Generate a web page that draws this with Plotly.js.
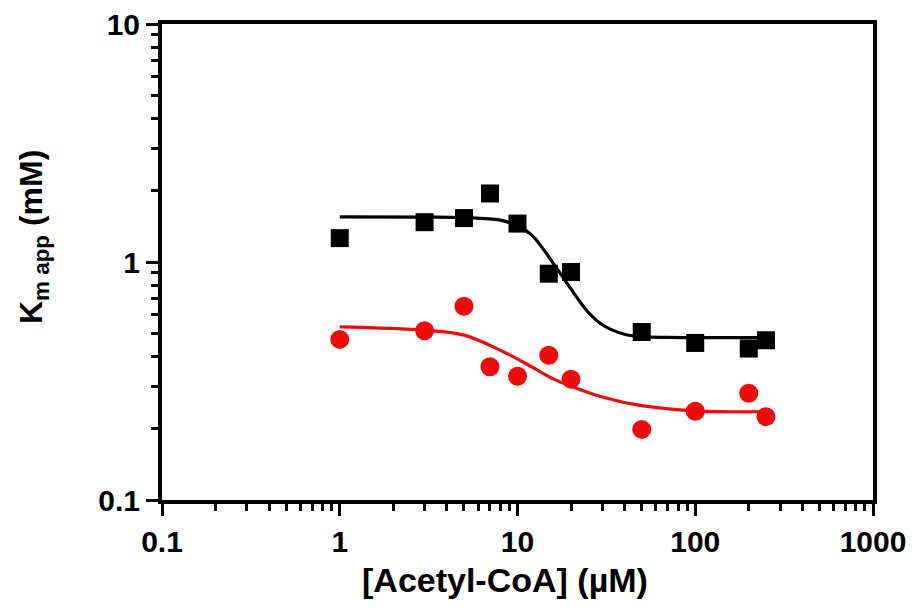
<!DOCTYPE html>
<html>
<head>
<meta charset="utf-8">
<script src="https://cdn.plot.ly/plotly-3.0.1.min.js"></script>
<style>html,body{margin:0;padding:0;background:#fff;}#chart{width:918px;height:611px;}</style>
</head>
<body>
<div id="chart"></div>
<script>
// Measured data: [Acetyl-CoA] (µM) vs Km app (mM)
const blackX = [1, 3, 5, 7, 10, 15, 20, 50, 100, 200, 250];
const blackY = [1.26, 1.47, 1.53, 1.94, 1.45, 0.893, 0.908, 0.508, 0.457, 0.433, 0.469];
const redX = [1, 3, 5, 7, 10, 15, 20, 50, 100, 200, 250];
const redY = [0.473, 0.514, 0.652, 0.363, 0.331, 0.406, 0.322, 0.198, 0.236, 0.281, 0.224];

// Fitted curves
const blackFitX = [1, 3, 5, 8, 10, 12, 14, 16, 18, 20, 25, 30, 40, 50, 70, 100, 250];
const blackFitY = [1.546, 1.545, 1.537, 1.50, 1.42, 1.30, 1.13, 0.98, 0.865, 0.77, 0.615, 0.545, 0.497, 0.486, 0.482, 0.481, 0.481];
const redFitX = [1, 3, 5, 8, 12, 16, 20, 30, 50, 100, 250];
const redFitY = [0.534, 0.517, 0.493, 0.426, 0.363, 0.322, 0.301, 0.271, 0.249, 0.237, 0.235];

const xTickVals = [0.1, 1, 10, 100, 1000];
const xTickText = ['0.1', '1', '10', '100', '1000'];
const yTickVals = [0.1, 1, 10];
const yTickText = ['0.1', '1', '10'];
const xTitle = '[Acetyl-CoA] (µM)';
const yTitle = 'K<sub>m app</sub> (mM)';

const RED = 'rgb(237,12,12)';
const FONT = 'Liberation Sans, Arial, sans-serif';

const traces = [
  {x: blackFitX, y: blackFitY, mode: 'lines', line: {color: '#000', width: 3.2, shape: 'spline', smoothing: 1}, hoverinfo: 'skip'},
  {x: redFitX, y: redFitY, mode: 'lines', line: {color: RED, width: 3.2, shape: 'spline', smoothing: 1}, hoverinfo: 'skip'},
  {x: blackX, y: blackY, mode: 'markers', marker: {symbol: 'square', size: 18, color: '#000'}},
  {x: redX, y: redY, mode: 'markers', marker: {symbol: 'circle', size: 19, color: RED}}
];

const axisCommon = {
  type: 'log',
  showgrid: false,
  zeroline: false,
  showline: true,
  linecolor: '#000',
  linewidth: 4,
  mirror: true,
  ticks: 'outside',
  ticklen: 12,
  tickwidth: 3,
  tickcolor: '#000',
  tickmode: 'array',
  tickfont: {family: FONT, size: 30, color: '#000', weight: 'bold'},
  minor: {ticks: 'outside', ticklen: 7, tickwidth: 3, tickcolor: '#000', dtick: 'D1', showgrid: false}
};

const layout = {
  width: 918, height: 611,
  paper_bgcolor: '#fff', plot_bgcolor: '#fff',
  showlegend: false,
  margin: {l: 162, r: 45, t: 24, b: 111},
  xaxis: Object.assign({}, axisCommon, {
    range: [-1, 3],
    tickvals: xTickVals, ticktext: xTickText
  }),
  yaxis: Object.assign({}, axisCommon, {
    range: [-1, 1],
    tickvals: yTickVals, ticktext: yTickText
  }),
  annotations: [
    {text: xTitle, xref: 'paper', yref: 'paper', x: 0.4824, y: -0.168, xanchor: 'center', yanchor: 'middle',
     showarrow: false, font: {family: FONT, size: 34, color: '#000', weight: 'bold'}},
    {text: yTitle, xref: 'paper', yref: 'paper', x: -0.1814, y: 0.5525, xanchor: 'center', yanchor: 'middle',
     textangle: -90, showarrow: false, font: {family: FONT, size: 32, color: '#000', weight: 'bold'}}
  ],
  hovermode: false
};

Plotly.newPlot('chart', traces, layout, {displayModeBar: false, staticPlot: true});
</script>
</body>
</html>
